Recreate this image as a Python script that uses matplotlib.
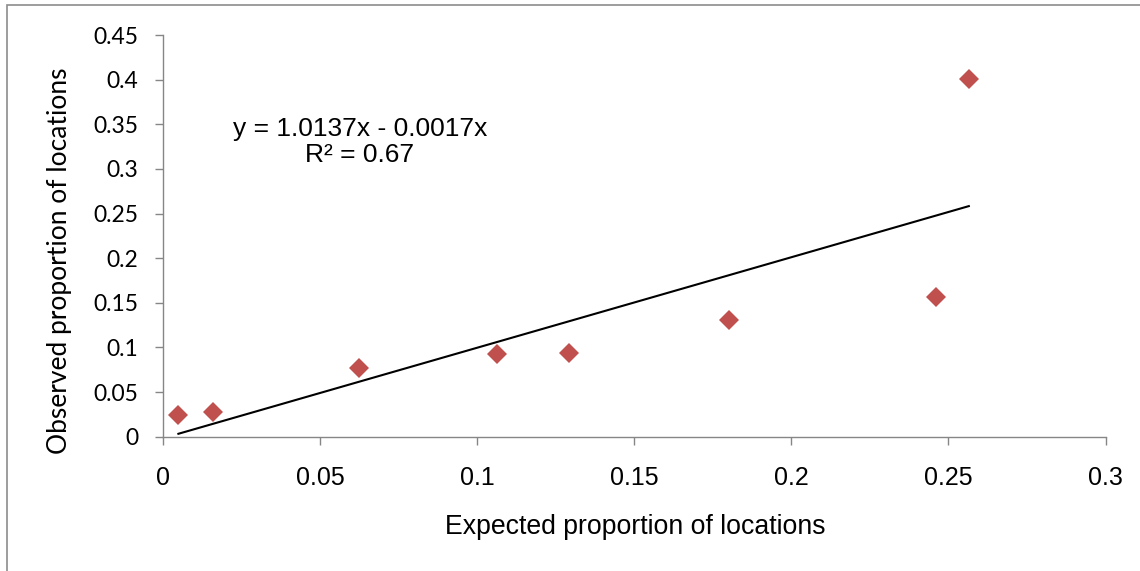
import matplotlib
matplotlib.use("Agg")
import matplotlib.pyplot as plt
from matplotlib.patches import Rectangle
import numpy as np

# Data
expected = [0.0049, 0.0158, 0.0625, 0.1062, 0.1291, 0.1801, 0.2459, 0.2565]
observed = [0.0243, 0.0273, 0.0770, 0.0927, 0.0941, 0.1307, 0.1565, 0.4007]
slope = 1.0137
intercept = -0.0017
x_ticks = [0, 0.05, 0.1, 0.15, 0.2, 0.25, 0.3]
x_tick_labels = ["0", "0.05", "0.1", "0.15", "0.2", "0.25", "0.3"]
y_ticks = [0, 0.05, 0.1, 0.15, 0.2, 0.25, 0.3, 0.35, 0.4, 0.45]
y_tick_labels = ["0", "0.05", "0.1", "0.15", "0.2", "0.25", "0.3", "0.35", "0.4", "0.45"]
equation_text = "y = 1.0137x - 0.0017x\nR\u00b2 = 0.67"
x_label = "Expected proportion of locations"
y_label = "Observed proportion of locations"

W, H = 1140, 571
fig = plt.figure(figsize=(W / 100, H / 100), dpi=100)
fig.patch.set_facecolor("white")

# outer chart border
fig.patches.append(Rectangle((7.3 / W, -0.05), 1.2, (H - 5) / H + 0.05,
                             transform=fig.transFigure, fill=False,
                             edgecolor="#8c8c8c", linewidth=1.2))

left, right, top, bottom = 163, 1105.5, 35, 436.7
ax = fig.add_axes([left / W, (H - bottom) / H, (right - left) / W, (bottom - top) / H])
ax.set_xlim(0, 0.3)
ax.set_ylim(0, 0.45)

for s in ["top", "right"]:
    ax.spines[s].set_visible(False)
for s in ["left", "bottom"]:
    ax.spines[s].set_color("#868686")
    ax.spines[s].set_linewidth(1.0)

ax.set_xticks(x_ticks)
ax.set_xticklabels(x_tick_labels, fontfamily="Liberation Sans", fontsize=18)
ax.set_yticks(y_ticks)
ax.set_yticklabels(y_tick_labels, fontfamily="Lato", fontsize=16.5)
ax.tick_params(axis="x", direction="out", length=5.5, width=1.0, color="#868686", pad=15.5)
ax.tick_params(axis="y", direction="out", length=5.5, width=1.0, color="#868686", pad=12.5)

# trendline
xl = np.array([min(expected), max(expected)])
ax.plot(xl, slope * xl + intercept, color="black", linewidth=1.5, zorder=2)

ax.plot(expected, observed, linestyle="none", marker="D", markersize=10,
        markerfacecolor="#C0504D", markeredgewidth=0, zorder=3)

fig.text(360 / W, 1 - 142 / H, equation_text, ha="center", va="center",
         fontfamily="Liberation Sans", fontsize=19, linespacing=1.12)

fig.text(635 / W, 1 - 527 / H, x_label, ha="center", va="center",
         fontfamily="Liberation Sans", fontsize=19.2)
fig.text(60 / W, 1 - 261 / H, y_label, ha="center", va="center", rotation=90,
         fontfamily="Lato", fontsize=19)

fig.savefig("out.png", dpi=100, facecolor="white")
